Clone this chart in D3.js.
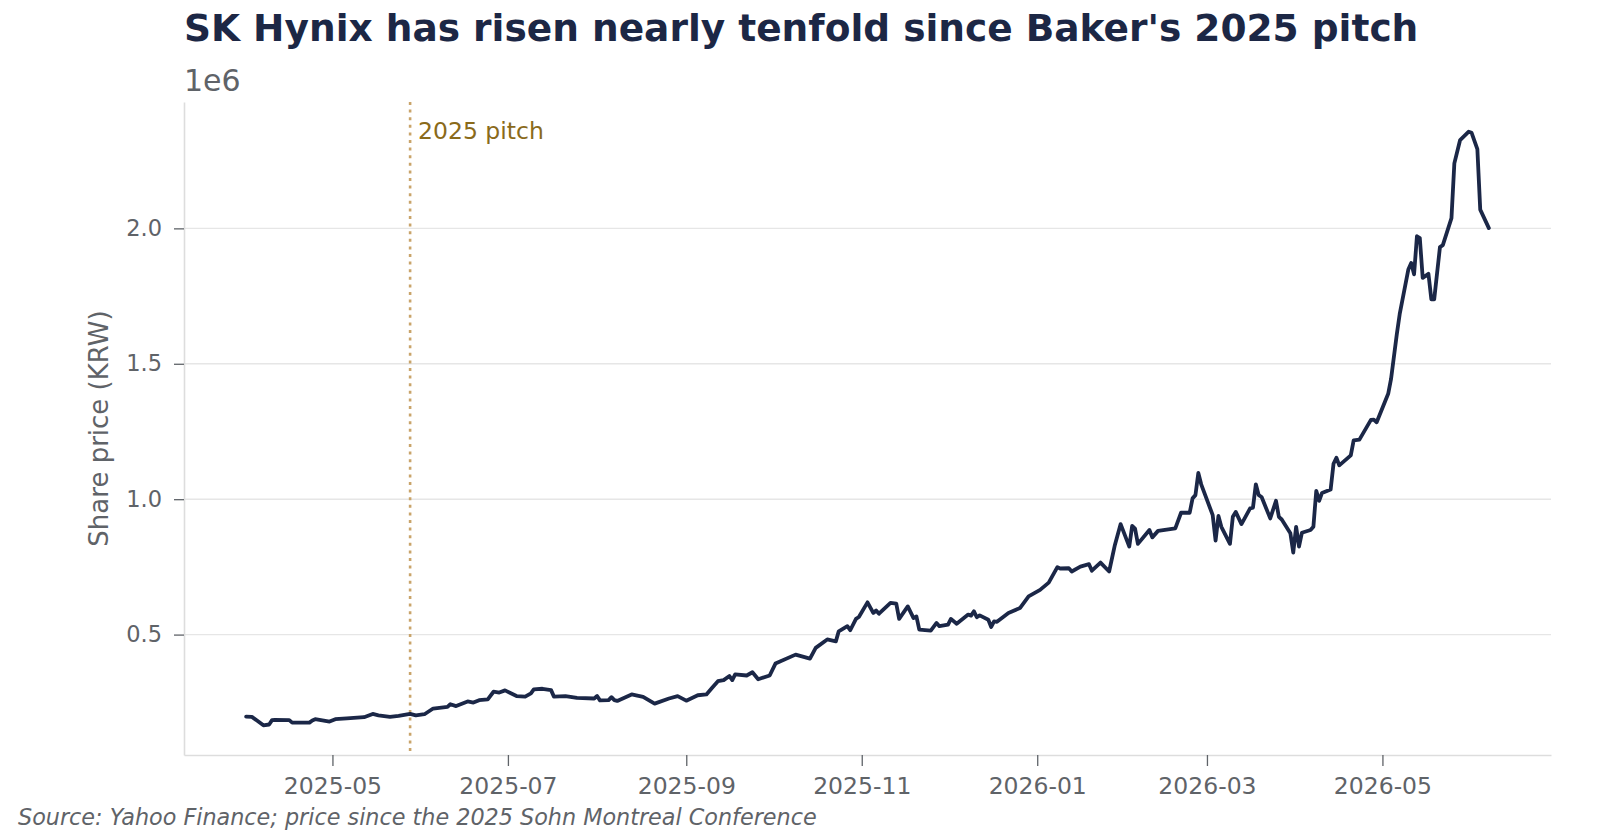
<!DOCTYPE html>
<html>
<head>
<meta charset="utf-8">
<script src="https://cdnjs.cloudflare.com/ajax/libs/d3/7.8.5/d3.min.js"></script>
<style>
  html, body { margin: 0; padding: 0; background: #ffffff; }
  svg { display: block; font-family: "DejaVu Sans", sans-serif; }
</style>
</head>
<body>
<div id="chart"></div>
<script>
// share price, KRW
const dates = [
  "2025-04-01","2025-04-03","2025-04-05","2025-04-07","2025-04-09","2025-04-10","2025-04-11","2025-04-16","2025-04-17","2025-04-23",
  "2025-04-24","2025-04-25","2025-04-30","2025-05-02","2025-05-06","2025-05-12","2025-05-15","2025-05-17","2025-05-21","2025-05-24",
  "2025-05-28","2025-05-30","2025-06-02","2025-06-05","2025-06-10","2025-06-11","2025-06-13","2025-06-17","2025-06-19","2025-06-21",
  "2025-06-24","2025-06-26","2025-06-28","2025-06-30","2025-07-04","2025-07-07","2025-07-09","2025-07-10","2025-07-13","2025-07-16",
  "2025-07-17","2025-07-21","2025-07-25","2025-07-31","2025-08-01","2025-08-02","2025-08-05","2025-08-06","2025-08-07","2025-08-08",
  "2025-08-13","2025-08-17","2025-08-21","2025-08-26","2025-08-29","2025-09-01","2025-09-05","2025-09-08","2025-09-10","2025-09-12",
  "2025-09-14","2025-09-16","2025-09-17","2025-09-18","2025-09-22","2025-09-24","2025-09-26","2025-09-30","2025-10-02","2025-10-09",
  "2025-10-14","2025-10-16","2025-10-20","2025-10-23","2025-10-24","2025-10-27","2025-10-28","2025-10-30","2025-10-31","2025-11-03",
  "2025-11-05","2025-11-06","2025-11-07","2025-11-11","2025-11-13","2025-11-14","2025-11-17","2025-11-19","2025-11-20","2025-11-21",
  "2025-11-25","2025-11-27","2025-11-28","2025-12-01","2025-12-02","2025-12-04","2025-12-08","2025-12-09","2025-12-10","2025-12-11",
  "2025-12-12","2025-12-15","2025-12-16","2025-12-17","2025-12-18","2025-12-22","2025-12-26","2025-12-29","2026-01-02","2026-01-05",
  "2026-01-08","2026-01-09","2026-01-12","2026-01-13","2026-01-16","2026-01-19","2026-01-20","2026-01-23","2026-01-26","2026-01-28",
  "2026-01-30","2026-02-02","2026-02-03","2026-02-04","2026-02-05","2026-02-09","2026-02-10","2026-02-12","2026-02-18","2026-02-20",
  "2026-02-23","2026-02-24","2026-02-25","2026-02-26","2026-02-27","2026-03-03","2026-03-04","2026-03-05","2026-03-06","2026-03-09",
  "2026-03-10","2026-03-11","2026-03-13","2026-03-16","2026-03-17","2026-03-18","2026-03-19","2026-03-20","2026-03-23","2026-03-25",
  "2026-03-26","2026-03-27","2026-03-30","2026-03-31","2026-04-01","2026-04-02","2026-04-03","2026-04-06","2026-04-07","2026-04-08",
  "2026-04-09","2026-04-10","2026-04-13","2026-04-14","2026-04-15","2026-04-16","2026-04-20","2026-04-21","2026-04-23","2026-04-27",
  "2026-04-28","2026-04-29","2026-05-03","2026-05-04","2026-05-06","2026-05-07","2026-05-10","2026-05-11","2026-05-12","2026-05-13",
  "2026-05-14","2026-05-15","2026-05-17","2026-05-18","2026-05-19","2026-05-21","2026-05-22","2026-05-25","2026-05-26","2026-05-28",
  "2026-05-31","2026-06-01","2026-06-03","2026-06-04","2026-06-07"
];
const prices = [
  197000,196000,181000,165000,168000,184000,185000,184000,175000,175000,
  183000,187500,179000,187500,191000,195000,207000,202000,196000,200000,
  207000,202000,206000,227000,233000,243000,236000,253000,249000,258000,
  261000,289000,286000,294000,273000,271000,283000,298000,300000,295000,
  271000,273000,266000,264000,273000,257000,258000,269000,258000,255000,
  279000,270000,245000,264000,273000,256000,276000,279000,304000,328000,
  332000,347000,332000,353000,349000,361000,335000,349000,393000,426000,
  411000,451000,482000,475000,512000,531000,516000,558000,565000,619000,
  580000,589000,577000,617000,614000,558000,604000,561000,567000,518000,
  515000,543000,531000,537000,558000,540000,574000,570000,586000,564000,
  571000,555000,528000,549000,547000,580000,598000,641000,665000,692000,
  749000,744000,745000,733000,751000,760000,736000,766000,733000,831000,
  908000,825000,901000,891000,835000,886000,859000,883000,892000,950000,
  950000,1003000,1015000,1097000,1055000,941000,847000,938000,898000,835000,
  935000,953000,908000,966000,969000,1055000,1015000,1008000,929000,994000,
  935000,925000,874000,803000,898000,825000,876000,886000,898000,1031000,
  994000,1023000,1036000,1131000,1153000,1125000,1162000,1217000,1220000,1293000,
  1294000,1284000,1389000,1444000,1609000,1683000,1848000,1872000,1830000,1971000,
  1964000,1817000,1832000,1738000,1738000,1931000,1938000,2038000,2240000,2326000,
  2357000,2353000,2293000,2069000,2001000
];
const yTicks = [500000, 1000000, 1500000, 2000000];
const pitchDate = "2025-05-28";
const pitchLabel = "2025 pitch";

const titleText = "SK Hynix has risen nearly tenfold since Baker's 2025 pitch";
const sourceText = "Source: Yahoo Finance; price since the 2025 Sohn Montreal Conference";

const W = 1600, H = 840;
const margin = { top: 102, right: 49, bottom: 85, left: 184 };
const innerW = W - margin.left - margin.right;
const innerH = H - margin.top - margin.bottom;

const parse = d3.timeParse("%Y-%m-%d");
const data = dates.map((d, i) => ({ date: parse(d), value: prices[i] }));

// matplotlib-like 5% padding
const xExt = d3.extent(data, d => d.date);
const xPad = (xExt[1] - xExt[0]) * 0.05;
const yExt = d3.extent(data, d => d.value);
const yPad = (yExt[1] - yExt[0]) * 0.05;

const x = d3.scaleTime()
  .domain([new Date(+xExt[0] - xPad), new Date(+xExt[1] + xPad)])
  .range([0, innerW]);
const y = d3.scaleLinear()
  .domain([yExt[0] - yPad, yExt[1] + yPad])
  .range([innerH, 0]);

const svg = d3.select("#chart").append("svg")
  .attr("width", W)
  .attr("height", H);

svg.append("text")
  .attr("x", margin.left)
  .attr("y", 41)
  .attr("font-size", 37.5)
  .attr("font-weight", "bold")
  .attr("fill", "#1c2745")
  .text(titleText);

const g = svg.append("g")
  .attr("transform", "translate(" + margin.left + "," + margin.top + ")");

// gridlines
g.append("g")
  .selectAll("line")
  .data(yTicks)
  .join("line")
  .attr("x1", 0)
  .attr("x2", innerW)
  .attr("y1", d => y(d))
  .attr("y2", d => y(d))
  .attr("stroke", "#e6e6e6")
  .attr("stroke-width", 1.4);

// axes
const xAxis = g.append("g")
  .attr("transform", "translate(0," + innerH + ")")
  .call(d3.axisBottom(x)
    .ticks(d3.timeMonth.every(2))
    .tickFormat(d3.timeFormat("%Y-%m"))
    .tickSizeInner(11)
    .tickSizeOuter(0)
    .tickPadding(11));

const yAxis = g.append("g")
  .call(d3.axisLeft(y)
    .tickValues(yTicks)
    .tickFormat(d => d3.format(".1f")(d / 1e6))
    .tickSizeInner(10)
    .tickSizeOuter(0)
    .tickPadding(12));

[xAxis, yAxis].forEach(a => {
  a.select(".domain").attr("stroke", "#dddddd").attr("stroke-width", 1.6);
  a.selectAll(".tick line").attr("stroke", "#5f6368").attr("stroke-width", 1.3);
  a.selectAll(".tick text")
    .attr("fill", "#5f6368")
    .attr("font-family", "DejaVu Sans");
});
xAxis.selectAll(".tick text").attr("font-size", 23.5).attr("dy", "0.71em");
yAxis.selectAll(".tick text").attr("font-size", 22.5);

// offset text
svg.append("text")
  .attr("x", margin.left)
  .attr("y", 91)
  .attr("font-size", 30)
  .attr("fill", "#5f6368")
  .text("1e6");

// y label
svg.append("text")
  .attr("transform", "translate(108," + (margin.top + innerH / 2) + ") rotate(-90)")
  .attr("text-anchor", "middle")
  .attr("font-size", 26)
  .attr("fill", "#5f6368")
  .text("Share price (KRW)");

// pitch marker
const px = x(parse(pitchDate));
g.append("line")
  .attr("x1", px)
  .attr("x2", px)
  .attr("y1", 0)
  .attr("y2", innerH)
  .attr("stroke", "#c9a46a")
  .attr("stroke-width", 2.6)
  .attr("stroke-dasharray", "3,4.6");

g.append("text")
  .attr("x", px + 8)
  .attr("y", 37)
  .attr("font-size", 23.5)
  .attr("fill", "#8a6a1a")
  .text(pitchLabel);

// price line
const line = d3.line()
  .x(d => x(d.date))
  .y(d => y(d.value));

g.append("path")
  .datum(data)
  .attr("fill", "none")
  .attr("stroke", "#1b2747")
  .attr("stroke-width", 3.8)
  .attr("stroke-linejoin", "round")
  .attr("stroke-linecap", "round")
  .attr("d", line);

// source note
svg.append("text")
  .attr("x", 18)
  .attr("y", 825)
  .attr("font-size", 22.3)
  .attr("font-style", "italic")
  .attr("fill", "#5f6368")
  .text(sourceText);
</script>
</body>
</html>
